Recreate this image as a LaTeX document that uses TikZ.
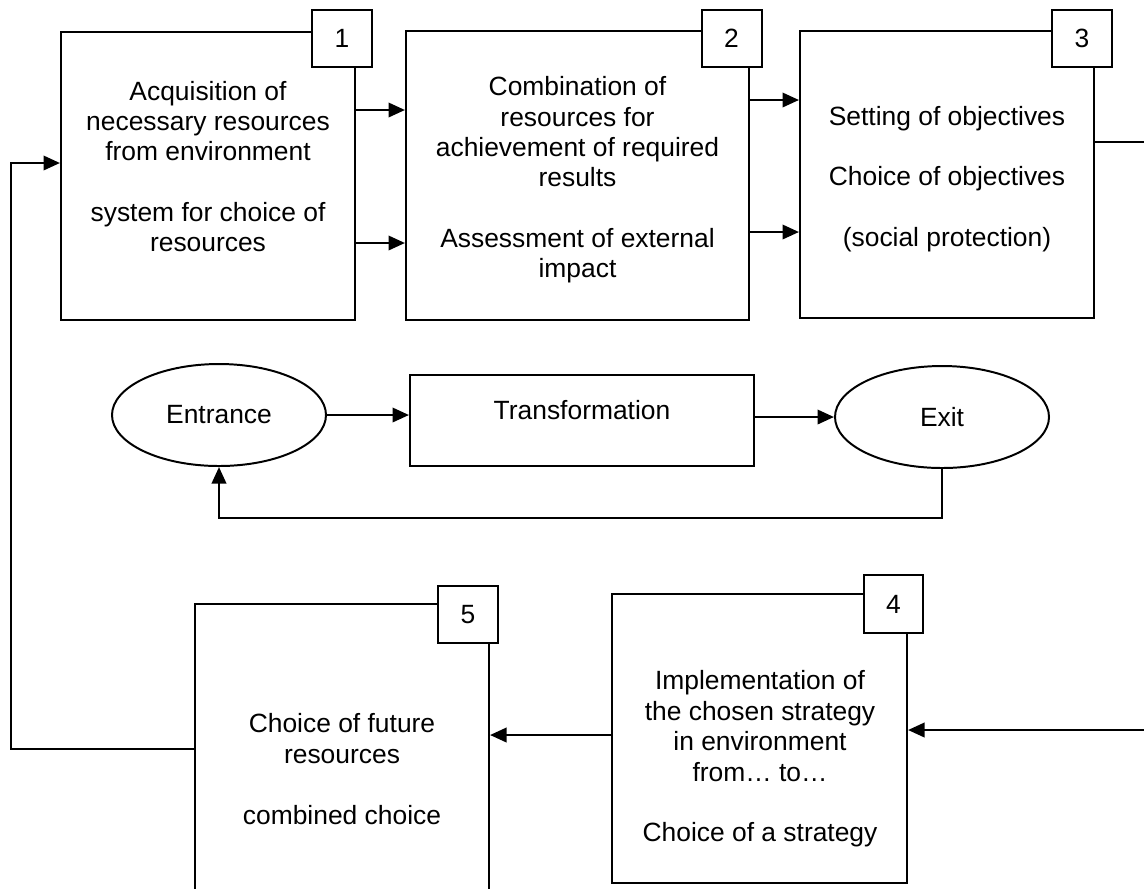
\documentclass[tikz,border=0pt]{standalone}
\usepackage{fontspec}
\setmainfont{Liberation Sans}
\usetikzlibrary{arrows.meta,shapes.geometric}

\newcommand{\pxu}{0.4545pt}

\tikzset{
  stagebox/.style={draw, line width=0.9pt, rectangle, inner sep=0pt},
  numbox/.style={draw, line width=0.9pt, fill=white, inner sep=0pt,
    minimum width=60*\pxu, minimum height=57*\pxu},
  oval/.style={draw, line width=0.9pt, ellipse, inner sep=0pt,
    minimum width=214*\pxu, minimum height=102*\pxu},
  boxtext/.style={align=center, inner sep=0pt},
  flow/.style={line width=1.2pt, -{Triangle[length=7.5pt,width=6.5pt]}},
}

\begin{document}
\begin{tikzpicture}[x=\pxu, y=-\pxu, font=\fontsize{12}{13.8}\selectfont]
    \useasboundingbox (0,0) rectangle (1144,888);
    \clip (0,0) rectangle (1144,888);

    % upper row
    \node[stagebox, minimum width=294*\pxu, minimum height=288*\pxu] (b1) at (208,176) {};
    \node[numbox] (n1) at (342,38.5) {1};
    \node[boxtext] (t1) at (208,166.5) {Acquisition of\\necessary resources\\from environment\\[13.8pt]system for choice of\\resources};

    \node[stagebox, minimum width=343*\pxu, minimum height=289*\pxu] (b2) at (577.5,175.5) {};
    \node[numbox] (n2) at (731.5,38.5) {2};
    \node[boxtext] (t2) at (577.5,180) {Combination of\\resources for\\achievement of required\\results\\[13.8pt]Assessment of external\\impact};

    \node[stagebox, minimum width=294*\pxu, minimum height=287*\pxu] (b3) at (947,174.5) {};
    \node[numbox] (n3) at (1082,38.5) {3};
    \node[boxtext] (t3) at (947,179) {Setting of objectives\\[13.8pt]Choice of objectives\\[13.8pt](social protection)};

    % middle row
    \node[oval] (entr) at (219,415) {Entrance};
    \node[stagebox, minimum width=344*\pxu, minimum height=91*\pxu] (trans) at (582,420.5) {};
    \node[boxtext] (tt) at (582,410) {Transformation};
    \node[oval] (exit) at (942,417) {Exit};

    % lower row
    \node[stagebox, minimum width=295*\pxu, minimum height=289*\pxu] (b4) at (759.5,738.5) {};
    \node[numbox, minimum width=59*\pxu, minimum height=58*\pxu] (n4) at (893.5,604) {4};
    \node[boxtext] (t4) at (760,759) {Implementation of\\the chosen strategy\\in environment\\from\dots{} to\dots\\[13.8pt]Choice of a strategy};

    \node[stagebox, minimum width=294*\pxu, minimum height=316*\pxu] (b5) at (342,762) {};
    \node[numbox] (n5) at (468,614.5) {5};
    \node[boxtext] (t5) at (342,769) {Choice of future\\resources\\[13.8pt]combined choice};

    % connectors
    \draw[flow] (b1.east |- 0,110) -- (b2.west |- 0,110);
    \draw[flow] (b1.east |- 0,243) -- (b2.west |- 0,243);
    \draw[flow] (b2.east |- 0,100) -- (b3.west |- 0,100);
    \draw[flow] (b2.east |- 0,232) -- (b3.west |- 0,232);
    \draw[flow] (b3.east |- 0,142) -- (1160,142) |- (b4.east |- 0,730);
    \draw[flow] (b4.west |- 0,735) -- (b5.east |- 0,735);
    \draw[flow] (b5.west |- 0,749) -| (11,163) -- (b1.west |- 0,163);

    \draw[flow] (entr.east) -- (trans.west |- entr.east);
    \draw[flow] (trans.east |- 0,417) -- (exit.west);
    \draw[flow] (exit.south) -- ++(0,49) -| (entr.south);
\end{tikzpicture}
\end{document}
